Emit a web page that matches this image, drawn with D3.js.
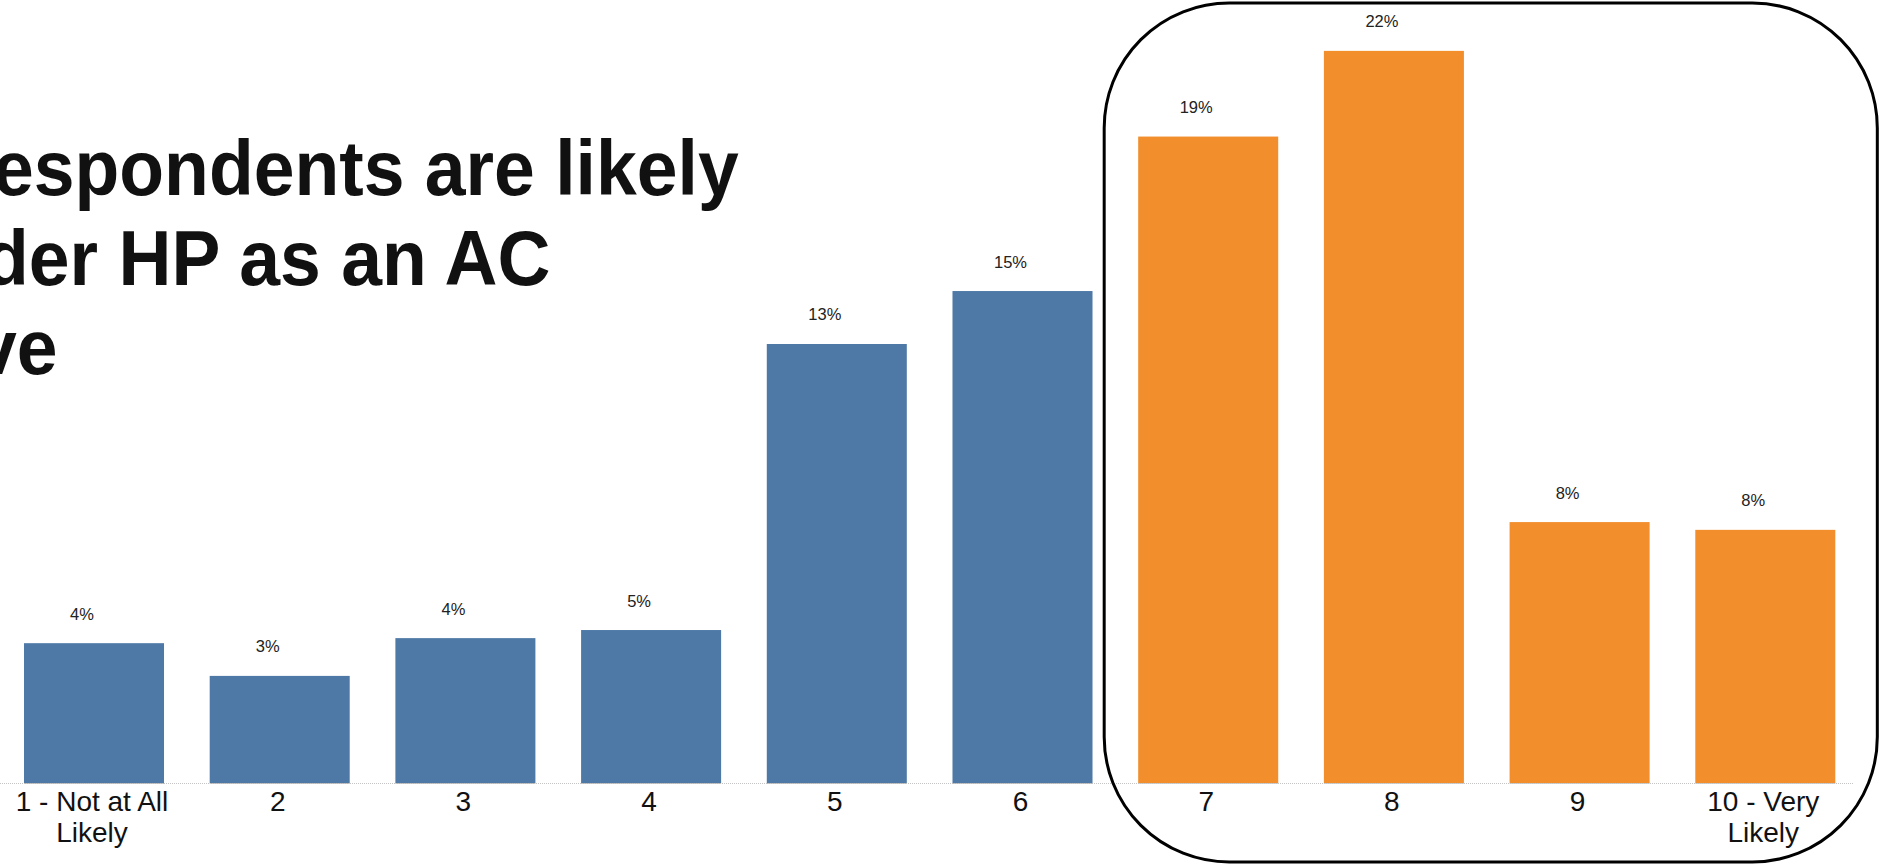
<!DOCTYPE html>
<html>
<head>
<meta charset="utf-8">
<script src="https://cdn.jsdelivr.net/npm/d3@7"></script>
<style>
  html, body { margin: 0; padding: 0; background: #fff; overflow: hidden; }
  svg { display: block; }
</style>
</head>
<body>
<svg id="chart" width="1879" height="864"></svg>
<script>
// Likelihood scale (1–10) and share of respondents choosing each score
const categories = ["1", "2", "3", "4", "5", "6", "7", "8", "9", "10"];
const tickLabels = [
  ["1 - Not at All", "Likely"], ["2"], ["3"], ["4"], ["5"],
  ["6"], ["7"], ["8"], ["9"], ["10 - Very", "Likely"]
];
const shares = [0.0416, 0.0319, 0.0431, 0.0455, 0.1303, 0.1460, 0.1918, 0.2172, 0.0775, 0.0752];
const highlighted = ["7", "8", "9", "10"];
const titleLines = ["espondents are likely", "der HP as an AC", "ve"];

const W = 1879, H = 864;
const baseY = 783.5;
const svg = d3.select("#chart");

const data = categories.map((c, i) => ({ cat: c, value: shares[i], lines: tickLabels[i] }));

const x = d3.scaleBand()
  .domain(categories)
  .range([1.15, 1858.15])
  .paddingInner(0.246)
  .paddingOuter(0.123);

const y = d3.scaleLinear()
  .domain([0, 0.25])
  .range([baseY, baseY - 0.25 * 3373]);

const blue = "#4E79A7", orange = "#F28E2B";
const pct = d3.format(".0%");

// Headline (runs off the left edge of the slide)
const title = svg.append("g")
  .attr("transform", "scale(0.94,1)")
  .attr("font-family", "'Liberation Sans', Arial, sans-serif")
  .attr("font-weight", "bold")
  .attr("font-size", 78)
  .attr("fill", "#111");
const titleX = [-7, -16, -24];
const titleY = [195, 285, 374];
title.selectAll("text")
  .data(titleLines)
  .join("text")
  .attr("x", (d, i) => titleX[i] / 0.94)
  .attr("y", (d, i) => titleY[i])
  .text(d => d);

// Bars
svg.append("g")
  .selectAll("rect")
  .data(data)
  .join("rect")
  .attr("x", d => x(d.cat))
  .attr("y", d => y(d.value))
  .attr("width", x.bandwidth())
  .attr("height", d => y(0) - y(d.value))
  .attr("fill", d => highlighted.includes(d.cat) ? orange : blue);

// Dotted baseline
svg.append("line")
  .attr("x1", 0)
  .attr("x2", 1853)
  .attr("y1", baseY)
  .attr("y2", baseY)
  .attr("stroke", "#c4c4c4")
  .attr("stroke-width", 1)
  .attr("stroke-dasharray", "1,1");

// Value labels
svg.append("g")
  .attr("font-family", "'Liberation Sans', Arial, sans-serif")
  .attr("font-size", 16.5)
  .attr("fill", "#222")
  .attr("text-anchor", "middle")
  .selectAll("text")
  .data(data)
  .join("text")
  .attr("x", d => x(d.cat) + x.bandwidth() / 2 - 12)
  .attr("y", d => y(d.value) - 23.5)
  .text(d => pct(d.value));

// Category axis labels (multi-line)
const ticks = svg.append("g")
  .attr("font-family", "'Liberation Sans', Arial, sans-serif")
  .attr("font-size", 28)
  .attr("fill", "#111")
  .attr("text-anchor", "middle")
  .selectAll("text")
  .data(data)
  .join("text")
  .attr("x", d => x(d.cat) + x.bandwidth() / 2 - 2)
  .attr("y", 811);
ticks.selectAll("tspan")
  .data(d => d.lines.map(l => ({ l, cx: x(d.cat) + x.bandwidth() / 2 - 2 })))
  .join("tspan")
  .attr("x", d => d.cx)
  .attr("dy", (d, i) => i === 0 ? 0 : 31)
  .text(d => d.l);

// Rounded frame around the top scores
const fx0 = x(highlighted[0]) - 34;
const fx1 = x(highlighted[highlighted.length - 1]) + x.bandwidth() + 42;
svg.append("rect")
  .attr("x", fx0)
  .attr("y", 3)
  .attr("width", fx1 - fx0)
  .attr("height", 859)
  .attr("rx", 125)
  .attr("ry", 125)
  .attr("fill", "none")
  .attr("stroke", "#000")
  .attr("stroke-width", 3);
</script>
</body>
</html>
